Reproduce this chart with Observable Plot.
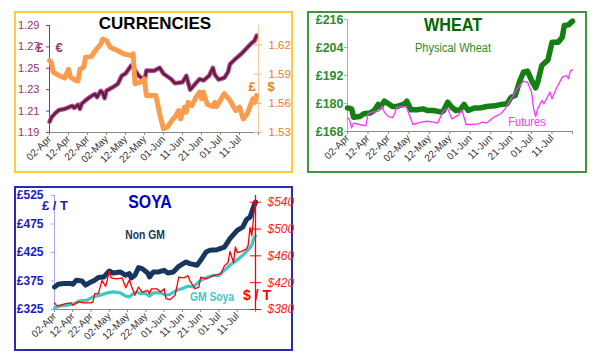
<!DOCTYPE html>
<html><head><meta charset="utf-8">
<script src="https://cdn.jsdelivr.net/npm/d3@7"></script>
<script src="https://cdn.jsdelivr.net/npm/@observablehq/plot@0.6"></script>
<style>
body{margin:0;background:#fff;font-family:"Liberation Sans",Arial,sans-serif;}
#root{position:relative;width:600px;height:363px;overflow:hidden;background:#fff;}
.box{position:absolute;box-sizing:border-box;}
.layer{position:absolute;}
.layer svg{overflow:visible;}
.lbl{position:absolute;white-space:nowrap;line-height:1;font-family:"Liberation Sans",Arial,sans-serif;}
</style></head><body><div id="root"></div>
<script>
// ---------- DATA ----------
const xDomainDates = ["04-02", "07-21"];
const xTickDates = ["04-02","04-12","04-22","05-02","05-12","05-22","06-01","06-11","06-21","07-01","07-11","07-21"];
const xTickLabels = ["02-Apr","12-Apr","22-Apr","02-May","12-May","22-May","01-Jun","11-Jun","21-Jun","01-Jul","11-Jul",""];

// Currencies: GBP/EUR (left axis) and GBP/USD (right axis)
const eurTicks = [1.19, 1.21, 1.23, 1.25, 1.27, 1.29];
const usdTicks = [1.53, 1.56, 1.59, 1.62];
const eurDates = ["04-02","04-03","04-05","04-07","04-10","04-12","04-14","04-15","04-17","04-18","04-19","04-22","04-24","04-26","04-27","04-29","04-30","05-01","05-02","05-05","05-08","05-10","05-12","05-15","05-16","05-19","05-22","05-23","05-27","05-30","06-01","06-05","06-07","06-11","06-13","06-15","06-17","06-20","06-22","06-25","06-27","06-28","06-30","07-03","07-05","07-06","07-09","07-12","07-14","07-17","07-19","07-20"];
const eurValues = [1.200,1.204,1.208,1.211,1.212,1.2135,1.215,1.213,1.216,1.212,1.217,1.2215,1.224,1.226,1.223,1.229,1.227,1.222,1.229,1.232,1.2355,1.243,1.245,1.2526,1.2505,1.243,1.2386,1.248,1.2477,1.2505,1.2449,1.240,1.236,1.237,1.243,1.230,1.234,1.240,1.2386,1.243,1.2505,1.244,1.2395,1.241,1.2467,1.254,1.259,1.2636,1.2673,1.2729,1.276,1.2807];
const usdDates = ["04-02","04-03","04-04","04-07","04-10","04-12","04-13","04-16","04-17","04-18","04-20","04-21","04-24","04-26","04-29","04-30","05-02","05-04","05-08","05-11","05-15","05-16","05-17","05-20","05-22","05-23","05-26","05-28","05-30","06-01","06-03","06-06","06-07","06-09","06-10","06-12","06-13","06-14","06-16","06-18","06-20","06-21","06-22","06-24","06-27","06-28","06-29","07-03","07-06","07-09","07-11","07-13","07-15","07-18","07-19","07-20"];
const usdValues = [1.604,1.602,1.592,1.5886,1.586,1.595,1.587,1.5834,1.583,1.595,1.597,1.6074,1.608,1.614,1.621,1.626,1.6245,1.6177,1.614,1.611,1.609,1.611,1.580,1.5817,1.585,1.568,1.568,1.568,1.549,1.5338,1.5355,1.544,1.5458,1.5526,1.544,1.556,1.551,1.561,1.5577,1.566,1.5715,1.5646,1.5715,1.559,1.5567,1.561,1.5567,1.570,1.563,1.5526,1.556,1.544,1.549,1.5646,1.561,1.568];

// Wheat: physical and futures (GBP/t)
const wheatTicks = [168, 180, 192, 204, 216];
const physDates = ["04-02","04-04","04-05","04-08","04-10","04-13","04-15","04-17","04-18","04-20","04-22","04-24","04-26","04-30","05-01","05-03","05-06","05-09","05-11","05-14","05-18","05-19","05-21","05-23","05-25","05-27","05-29","05-31","06-03","06-06","06-09","06-13","06-16","06-19","06-21","06-23","06-25","06-27","06-29","07-01","07-03","07-04","07-06","07-09","07-11","07-14","07-16","07-17","07-19","07-21"];
const physValues = [178.1,177.7,174.1,174.4,175.6,175.9,177,179.6,178.4,181,179.9,178.7,178.7,179.9,181,177.3,177.3,177.7,177,177,176.3,177,180.6,178.4,177,177.3,179.6,177,178.1,178.1,178.7,179,179.6,179.9,182.7,183.4,189.1,193.4,193.9,189.9,186.7,189.1,196.3,198.7,206.3,206.3,208.4,213.4,213.7,215.3];
const futDates = ["04-02","04-03","04-04","04-05","04-08","04-11","04-12","04-14","04-17","04-19","04-20","04-22","04-24","04-25","04-26","04-30","05-01","05-04","05-08","05-11","05-14","05-16","05-19","05-21","05-23","05-26","05-28","05-30","06-01","06-05","06-07","06-09","06-11","06-13","06-16","06-18","06-21","06-24","06-27","06-29","07-01","07-02","07-03","07-04","07-06","07-07","07-10","07-11","07-13","07-16","07-18","07-19","07-20","07-21"];
const futValues = [173.9,173,169.6,171.6,171,170.4,175.6,176.3,176.6,178.7,176.3,174.4,173.9,175.6,178.4,178.7,178.1,171,172,172.4,172,171.6,177,177.7,173.4,174.9,177,171,171,171.3,172,171.6,173,174.4,175.6,177.7,182,186.3,189.6,189.1,184.9,177.7,174.4,177.7,181.3,179.9,184.9,182,186.3,191.3,192,190.6,194.1,194.4];

// Soya: Non GM and GM (GBP/t, left) and US$ price (right)
const soyaTicks = [325, 375, 425, 475, 525];
const soyaUsdTicks = [380, 420, 460, 500, 540];
const nonGmDates = ["04-02","04-04","04-07","04-11","04-12","04-14","04-17","04-19","04-22","04-24","04-26","04-29","05-02","05-04","05-08","05-11","05-13","05-14","05-16","05-18","05-20","05-23","05-24","05-26","05-29","06-01","06-03","06-06","06-09","06-13","06-15","06-19","06-21","06-24","06-26","06-30","07-04","07-07","07-11","07-14","07-16","07-18","07-20","07-21"];
const nonGmValues = [364.6,369.3,370.5,370.5,369.3,376.3,375.1,367.6,373.4,376.3,381,382.1,392.6,389.1,390.9,385,388,380.4,385,398.5,396.7,389.1,382.1,390.9,390.9,393.8,389.1,390.9,400.8,408.4,405.5,402.6,411.3,425.9,428.8,430,434.6,449.2,463.8,469.6,482.4,487.1,505.8,513.3];
const gmDates = ["04-02","04-04","04-09","04-13","04-16","04-20","04-23","04-27","05-01","05-04","05-08","05-11","05-13","05-14","05-17","05-19","05-22","05-24","05-26","05-30","06-02","06-04","06-08","06-11","06-14","06-17","06-21","06-25","06-28","07-01","07-04","07-07","07-11","07-14","07-17","07-19","07-20","07-21"];
const gmValues = [326.8,330.9,332.7,335.6,340.3,341.4,347.2,350.1,354.2,355.9,354.2,348.3,347.2,350.1,355.9,353,353,348.3,354.2,354.2,350.1,351.3,358.8,361.8,365.9,364.7,376.3,382.1,385,385,393.8,402.6,412,420,430,437.5,450,454];
const usdSoyaDates = ["04-02","04-03","04-04","04-08","04-11","04-12","04-15","04-18","04-22","04-23","04-24","04-26","04-28","04-30","05-02","05-03","05-06","05-09","05-11","05-13","05-14","05-16","05-18","05-20","05-23","05-24","05-25","05-28","05-30","06-01","06-02","06-04","06-07","06-09","06-12","06-14","06-15","06-18","06-20","06-21","06-24","06-26","06-28","07-02","07-04","07-06","07-07","07-09","07-10","07-11","07-13","07-16","07-17","07-18","07-19","07-20","07-21"];
const usdSoyaValues = [389.8,386.4,384.9,388.8,389.8,386.4,391.3,389.8,389.8,391.3,403.6,403.6,423.2,414.4,436.9,427.1,425.6,427.1,412.4,424.2,415.8,401.1,413.4,406,408.5,403.6,410.9,410.9,406,410.9,396.2,394.7,401.1,428.1,427.1,430.6,423.2,410.9,413.4,428.1,425.6,428.1,430.6,433,445.3,450.2,466.4,450.2,473.3,464.9,466.4,470,476,502,490,520,538];

// ---------- HELPERS ----------
const parseD = s => { const [m, d] = s.split("-").map(Number); return new Date(Date.UTC(2012, m - 1, d)); };
const rows = (dates, vals) => dates.map((d, i) => ({date: parseD(d), v: vals[i]}));
const X_DOMAIN = xDomainDates.map(parseD);
const X_TICKS = xTickDates.map(parseD);
const labelMap = new Map(X_TICKS.map((d, i) => [+d, xTickLabels[i]]));
const FONT = "'Liberation Sans', Arial, sans-serif";
const root = document.getElementById("root");

function box(l, t, w, h, border) {
  const b = document.createElement("div");
  b.className = "box";
  Object.assign(b.style, {left: l + "px", top: t + "px", width: w + "px", height: h + "px", border});
  root.appendChild(b);
}
function layer(l, t, svg) {
  const d = document.createElement("div");
  d.className = "layer";
  d.style.left = l + "px"; d.style.top = t + "px";
  d.appendChild(svg);
  root.appendChild(d);
}
function label(text, cx, cy, style, sx = 1) {
  const s = document.createElement("div");
  s.className = "lbl";
  s.textContent = text;
  Object.assign(s.style, {left: cx + "px", top: cy + "px", transform: `translate(-50%,-50%) scaleX(${sx})`}, style);
  root.appendChild(s);
}
const xAxis = () => Plot.axisX({
  ticks: X_TICKS, tickFormat: d => labelMap.get(+d), tickRotate: -45,
  tickSize: 3, tickPadding: 2, fontSize: 10, stroke: "#888", fill: "#333", label: null
});
const base = (w, h, m) => ({
  width: w, height: h, marginLeft: m[0], marginRight: m[1], marginTop: m[2], marginBottom: m[3],
  x: {type: "utc", domain: X_DOMAIN},
  style: `background:transparent;overflow:visible;font-family:${FONT};`
});

// ---------- CURRENCIES ----------
{
  const W = 279, H = 162, M = [35, 35, 14, 41];
  box(14, 11, W, H, "2px solid #FFCC33");
  const eur = rows(eurDates, eurValues);
  const usd = rows(usdDates, usdValues);
  layer(14, 11, Plot.plot({
    ...base(W, H, M),
    y: {domain: [1.19, 1.29]},
    marks: [
      Plot.ruleY([1.19], {stroke: "#888"}),
      Plot.ruleX([X_DOMAIN[0]], {stroke: "#993366"}),
      Plot.axisY({ticks: eurTicks, tickFormat: d3.format(".2f"), tickSize: 3, tickPadding: 7, stroke: "#993366", fill: "#993366", fontSize: 11, label: null}),
      xAxis(),
      Plot.line(eur, {x: "date", y: "v", stroke: "#B04C88", strokeWidth: 4.5, strokeLinejoin: "round"}),
      Plot.line(eur, {x: "date", y: "v", stroke: "#5E1A42", strokeWidth: 2.2, strokeDasharray: "1,1.3"})
    ]
  }));
  layer(14, 11, Plot.plot({
    ...base(W, H, M),
    x: {type: "utc", domain: X_DOMAIN, axis: null},
    y: {domain: [1.53, 1.64]},
    marks: [
      Plot.ruleX([X_DOMAIN[1]], {stroke: "#FAC9A0"}),
      Plot.axisY({anchor: "right", ticks: usdTicks, tickFormat: d3.format(".2f"), tickSize: 3, tickPadding: 7, stroke: "#F7B57A", fill: "#F07A1E", fontSize: 11.5, label: null}),
      Plot.tickY(usdTicks, {y: d => d, stroke: "#F7B57A", insetLeft: W - M[0] - M[1] - 4}),
      Plot.line(usd, {x: "date", y: "v", stroke: "#FA9C4C", strokeWidth: 5, strokeLinejoin: "round"})
    ]
  }));
  label("CURRENCIES", 155, 23, {fontSize: "17px", fontWeight: "bold", color: "#000"});
  label("£", 40, 47, {fontSize: "13px", fontWeight: "bold", color: "#993366"});
  label("€", 59, 47, {fontSize: "13px", fontWeight: "bold", color: "#993366"});
  label("£", 252, 86, {fontSize: "13px", fontWeight: "bold", color: "#F07A1E"});
  label("$", 271, 86, {fontSize: "13px", fontWeight: "bold", color: "#F07A1E"});
}

// ---------- WHEAT ----------
{
  const W = 280, H = 162, M = [40, 15, 8, 42];
  box(307, 11, W, H, "2px solid #3C9A3C");
  const phys = rows(physDates, physValues);
  const fut = rows(futDates, futValues);
  layer(307, 11, Plot.plot({
    ...base(W, H, M),
    y: {domain: [168, 216]},
    marks: [
      Plot.ruleY([168], {stroke: "#888"}),
      Plot.ruleX([X_DOMAIN[0]], {stroke: "#9CC29C"}),
      Plot.axisY({ticks: wheatTicks, tickFormat: d => "£" + d, tickSize: 3, tickPadding: 1, stroke: "#9CC29C", fill: "#2E8B2E", fontSize: 12.5, fontWeight: "bold", label: null}),
      xAxis(),
      Plot.line(phys, {x: "date", y: "v", stroke: "#128012", strokeWidth: 5.5, strokeLinejoin: "round"}),
      Plot.line(fut, {x: "date", y: "v", stroke: "#FF33FF", strokeWidth: 1.3, strokeLinejoin: "round"})
    ]
  }));
  label("WHEAT", 453, 25, {fontSize: "18px", fontWeight: "bold", color: "#006600"}, 0.9);
  label("Physical Wheat", 453, 48, {fontSize: "12px", color: "#2E8B2E"}, 0.92);
  label("Futures", 527, 122, {fontSize: "12px", color: "#FF33FF"}, 0.92);
}

// ---------- SOYA ----------
{
  const W = 279, H = 165, M = [40, 38, 9, 42];
  box(14, 186, W, H, "2px solid #2B2BB0");
  const nonGm = rows(nonGmDates, nonGmValues);
  const gm = rows(gmDates, gmValues);
  const usdS = rows(usdSoyaDates, usdSoyaValues);
  layer(14, 186, Plot.plot({
    ...base(W, H, M),
    y: {domain: [325, 525]},
    marks: [
      Plot.ruleY([325], {stroke: "#888"}),
      Plot.ruleX([X_DOMAIN[0]], {stroke: "#A5A5FF"}),
      Plot.axisY({ticks: soyaTicks, tickFormat: d => "£" + d, tickSize: 3, tickPadding: 8, stroke: "#A5A5FF", fill: "#1A1ACC", fontSize: 12, fontWeight: "bold", label: null}),
      xAxis(),
      Plot.line(gm, {x: "date", y: "v", stroke: "#40C8C8", strokeWidth: 3.2, strokeLinejoin: "round"}),
      Plot.line(nonGm, {x: "date", y: "v", stroke: "#17375E", strokeWidth: 5, strokeLinejoin: "round"})
    ]
  }));
  layer(14, 186, Plot.plot({
    ...base(W, H, M),
    x: {type: "utc", domain: X_DOMAIN, axis: null},
    y: {domain: [380, 550]},
    marks: [
      Plot.ruleX([X_DOMAIN[1]], {stroke: "#FF0000", strokeWidth: 1.3}),
      Plot.axisY({anchor: "right", ticks: soyaUsdTicks, tickFormat: d => "$" + d, tickSize: 5, tickPadding: 7, stroke: "#FF0000", fill: "#FF2020", fontSize: 12, fontStyle: "italic", label: null}),
      Plot.tickY(soyaUsdTicks, {y: d => d, stroke: "#FF0000", insetLeft: W - M[0] - M[1] - 5}),
      Plot.line(usdS, {x: "date", y: "v", stroke: "#FF0000", strokeWidth: 1.3, strokeLinejoin: "round"})
    ]
  }));
  label("SOYA", 150, 202, {fontSize: "18px", fontWeight: "bold", color: "#0000CC"}, 0.88);
  label("£ / T", 55, 205, {fontSize: "13px", fontWeight: "bold", color: "#1A1ACC"});
  label("Non GM", 145, 235, {fontSize: "12px", fontWeight: "bold", color: "#17375E"}, 0.86);
  label("GM Soya", 212, 297, {fontSize: "12px", fontWeight: "bold", color: "#40C8C8"}, 0.86);
  label("$ / T", 257, 295, {fontSize: "14px", fontWeight: "bold", color: "#FF0000"});
}
</script>
</body></html>
